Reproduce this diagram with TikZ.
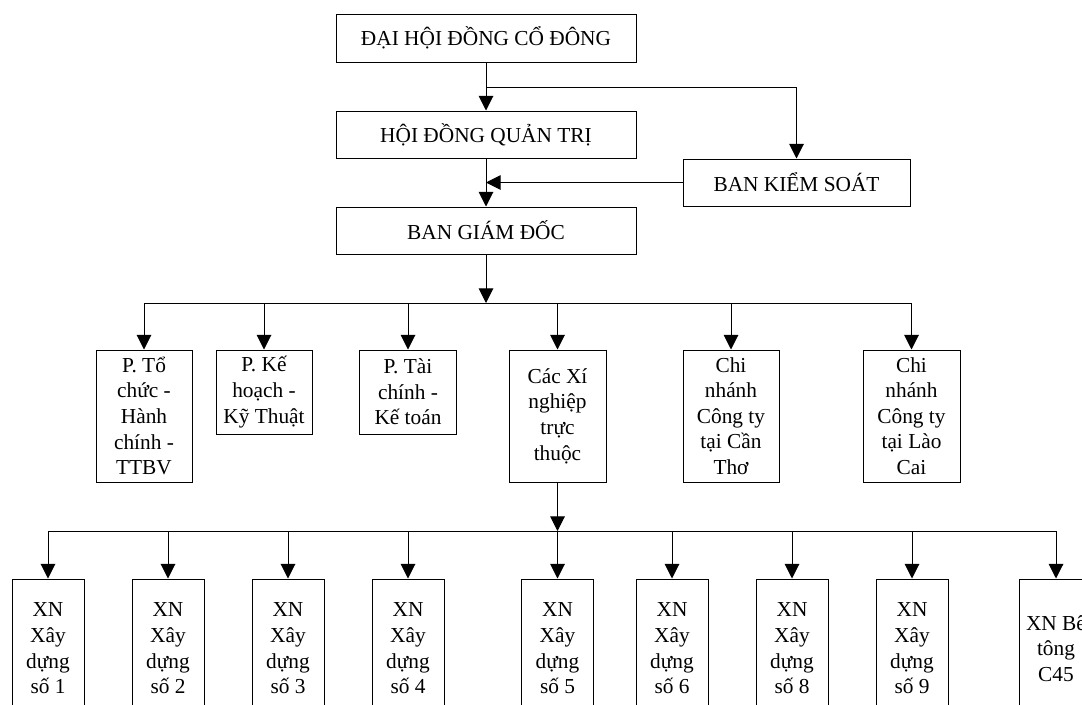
\documentclass[tikz,border=0pt]{standalone}
\usepackage{fontspec}
\setmainfont{Liberation Serif}
\usetikzlibrary{arrows.meta,positioning}

\tikzset{
  box/.style={draw, line width=0.75pt, inner sep=0pt, align=center,
    font=\fontsize{16}{19.2}\selectfont},
  boxsize/.style 2 args={minimum width=#1*0.75pt, minimum height=#2*0.75pt},
  link/.style={line width=0.75pt},
  arr/.style={line width=0.75pt, -{Triangle[length=11pt,width=11pt]}}
}

\begin{document}
\begin{tikzpicture}[x=0.75pt,y=-0.75pt]
        \clip (0,0) rectangle (1082,704);
        \node[box, boxsize={300}{48}] (dhcd) at (486,38) {ĐẠI HỘI ĐỒNG CỔ ĐÔNG};
        \node[box, boxsize={300}{47}] (hdqt) at (486,134.5) {HỘI ĐỒNG QUẢN TRỊ};
        \node[box, boxsize={300}{47}] (bgd) at (486,230.5) {BAN GIÁM ĐỐC};
        \node[box, boxsize={227}{47}] (bks) at (796.5,182.5) {BAN KIỂM SOÁT};

        \node[box, boxsize={96}{132}] (p1) at (144,416) {P. Tổ\\chức -\\Hành\\chính -\\TTBV};
        \node[box, boxsize={96}{84}] (p2) at (264,392) {P. Kế\\hoạch -\\Kỹ Thuật};
        \node[box, boxsize={97}{84}] (p3) at (408,392) {P. Tài\\chính -\\Kế toán};
        \node[box, boxsize={97}{132}] (p4) at (557.5,416) {Các Xí\\nghiệp\\trực\\thuộc};
        \node[box, boxsize={96}{132}] (p5) at (731,416) {Chi\\nhánh\\Công ty\\tại Cần\\Thơ};
        \node[box, boxsize={97}{132}] (p6) at (911.5,416) {Chi\\nhánh\\Công ty\\tại Lào\\Cai};

        \foreach \x/\s in {48/1,168/2,288/3,408/4,557.5/5,672/6,792/8,912/9}
          \node[box, boxsize={72}{139}] (xn\s) at (\x,648.5) {XN\\Xây\\dựng\\số \s};
        \node[box, boxsize={74}{139}] (xnbt) at (1056,648.5) {XN Bê\\tông\\C45};

        \coordinate (j1) at (486,87);
        \coordinate (j2) at (486,303);
        \coordinate (j3) at (557.5,531);

        \draw[arr] (dhcd) -- (hdqt);
        \draw[arr] (j1) -| (bks);
        \draw[arr] (hdqt) -- (bgd);
        \draw[arr] (bks.west) -- (bks.west -| bgd.north);
        \draw[arr] (bgd) -- (j2);
        \draw[link] (p1 |- j2) -- (p6 |- j2);
        \foreach \n in {p1,p2,p3,p4,p5,p6}
          \draw[arr] (\n |- j2) -- (\n);
        \draw[arr] (p4) -- (j3);
        \draw[link] (xn1 |- j3) -- (xnbt |- j3);
        \foreach \n in {xn1,xn2,xn3,xn4,xn5,xn6,xn8,xn9,xnbt}
          \draw[arr] (\n |- j3) -- (\n);
\end{tikzpicture}
\end{document}
